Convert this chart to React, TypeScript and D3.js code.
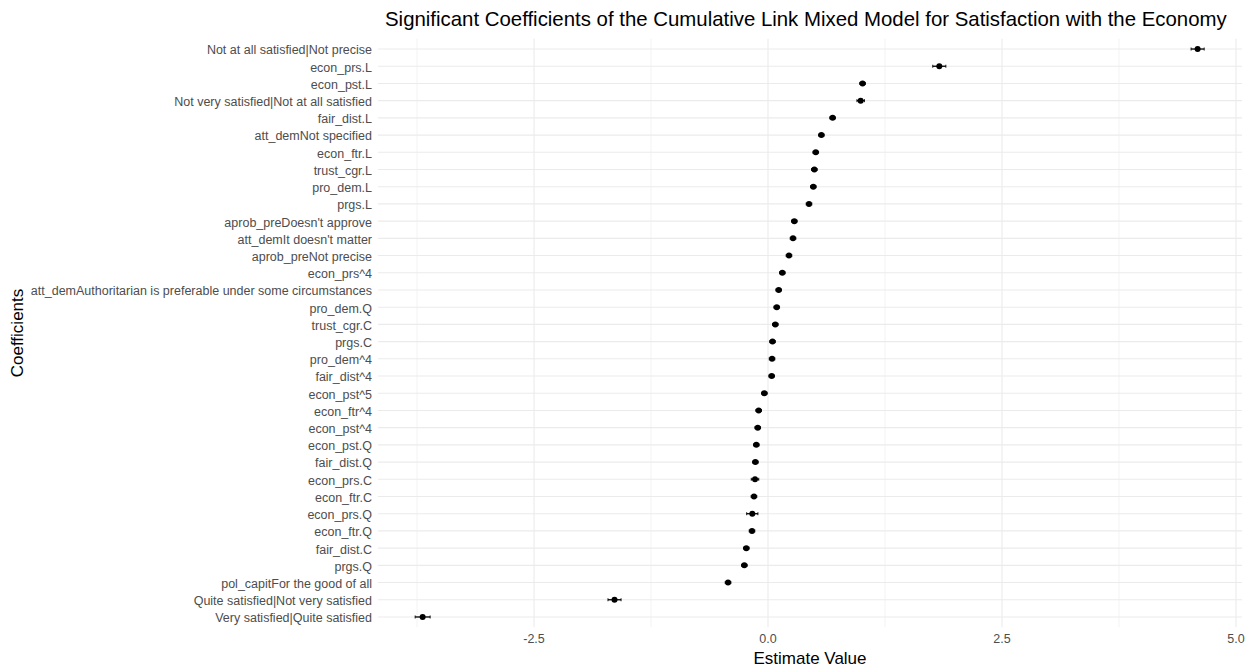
import React from "react";
import * as d3 from "d3";

const coefficients = [
  "Not at all satisfied|Not precise",
  "econ_prs.L",
  "econ_pst.L",
  "Not very satisfied|Not at all satisfied",
  "fair_dist.L",
  "att_demNot specified",
  "econ_ftr.L",
  "trust_cgr.L",
  "pro_dem.L",
  "prgs.L",
  "aprob_preDoesn't approve",
  "att_demIt doesn't matter",
  "aprob_preNot precise",
  "econ_prs^4",
  "att_demAuthoritarian is preferable under some circumstances",
  "pro_dem.Q",
  "trust_cgr.C",
  "prgs.C",
  "pro_dem^4",
  "fair_dist^4",
  "econ_pst^5",
  "econ_ftr^4",
  "econ_pst^4",
  "econ_pst.Q",
  "fair_dist.Q",
  "econ_prs.C",
  "econ_ftr.C",
  "econ_prs.Q",
  "econ_ftr.Q",
  "fair_dist.C",
  "prgs.Q",
  "pol_capitFor the good of all",
  "Quite satisfied|Not very satisfied",
  "Very satisfied|Quite satisfied",
];

const estimates = [
  4.59, 1.83, 1.01, 0.99, 0.69, 0.57, 0.51, 0.495, 0.484, 0.438, 0.281, 0.267,
  0.224, 0.153, 0.114, 0.093, 0.078, 0.048, 0.043, 0.039, -0.039, -0.1, -0.11,
  -0.125, -0.135, -0.139, -0.15, -0.168, -0.171, -0.232, -0.253, -0.427, -1.64,
  -3.69,
];

const halfWidths = [
  0.07, 0.07, 0.03, 0.04, 0.03, 0.03, 0.03, 0.03, 0.03, 0.03, 0.03, 0.03, 0.03,
  0.03, 0.03, 0.03, 0.03, 0.03, 0.03, 0.03, 0.03, 0.03, 0.03, 0.03, 0.03, 0.04,
  0.03, 0.06, 0.03, 0.03, 0.03, 0.03, 0.07, 0.08,
];

const majorTicks = [-2.5, 0, 2.5, 5];
const minorTicks = [-3.75, -1.25, 1.25, 3.75];
const tickLabels = ["-2.5", "0.0", "2.5", "5.0"];

const TITLE =
  "Significant Coefficients of the Cumulative Link Mixed Model for Satisfaction with the Economy";

export default function App() {
  const W = 1252;
  const H = 668;
  const panelLeft = 378;
  const panelRight = 1242;
  const panelTop = 38.7;
  const panelBottom = 627.3;

  const x = d3.scaleLinear().domain([-4.167, 5.064]).range([panelLeft, panelRight]);
  const y = d3
    .scalePoint<string>()
    .domain(coefficients)
    .range([panelTop, panelBottom])
    .padding(0.6);

  const font = "'Liberation Sans', Arial, Helvetica, sans-serif";
  const grid = "#ebebeb";

  return (
    <svg
      width={W}
      height={H}
      style={{ position: "absolute", left: 0, top: 0, background: "#fff" }}
      fontFamily={font}
    >
      <rect x={0} y={0} width={W} height={H} fill="#fff" />
      {minorTicks.map((t) => (
        <line
          key={"mn" + t}
          x1={x(t)}
          x2={x(t)}
          y1={panelTop}
          y2={panelBottom}
          stroke={grid}
          strokeWidth={0.6}
        />
      ))}
      {majorTicks.map((t) => (
        <line
          key={"mj" + t}
          x1={x(t)}
          x2={x(t)}
          y1={panelTop}
          y2={panelBottom}
          stroke={grid}
          strokeWidth={1.1}
        />
      ))}
      {coefficients.map((c) => (
        <line
          key={"h" + c}
          x1={panelLeft}
          x2={panelRight}
          y1={y(c)}
          y2={y(c)}
          stroke={grid}
          strokeWidth={1.1}
        />
      ))}
      {coefficients.map((c, i) => {
        const yy = y(c) as number;
        const lo = x(estimates[i] - halfWidths[i]);
        const hi = x(estimates[i] + halfWidths[i]);
        return (
          <g key={"p" + c}>
            <line x1={lo} x2={hi} y1={yy} y2={yy} stroke="#000" strokeWidth={1.3} />
            <line x1={lo} x2={lo} y1={yy - 1.5} y2={yy + 1.5} stroke="#000" strokeWidth={0.9} />
            <line x1={hi} x2={hi} y1={yy - 1.5} y2={yy + 1.5} stroke="#000" strokeWidth={0.9} />
            <circle cx={x(estimates[i])} cy={yy} r={3} fill="#000" />
          </g>
        );
      })}
      {coefficients.map((c) => (
        <text
          key={"l" + c}
          x={372}
          y={(y(c) as number) + 1}
          dy="0.35em"
          textAnchor="end"
          fontSize={12.5}
          fill="#4d4d4d"
        >
          {c}
        </text>
      ))}
      {majorTicks.map((t, i) => (
        <text
          key={"xt" + t}
          x={x(t)}
          y={639}
          dy="0.35em"
          textAnchor="middle"
          fontSize={12.5}
          fill="#4d4d4d"
        >
          {tickLabels[i]}
        </text>
      ))}
      <text
        x={(panelLeft + panelRight) / 2}
        y={658}
        dy="0.35em"
        textAnchor="middle"
        fontSize={17}
        fill="#000"
      >
        Estimate Value
      </text>
      <text
        transform={`translate(17, ${(panelTop + panelBottom) / 2}) rotate(-90)`}
        textAnchor="middle"
        dy="0.35em"
        fontSize={17}
        fill="#000"
      >
        Coefficients
      </text>
      <text x={385} y={19} dy="0.35em" fontSize={20.4} fill="#000">
        {TITLE}
      </text>
    </svg>
  );
}
